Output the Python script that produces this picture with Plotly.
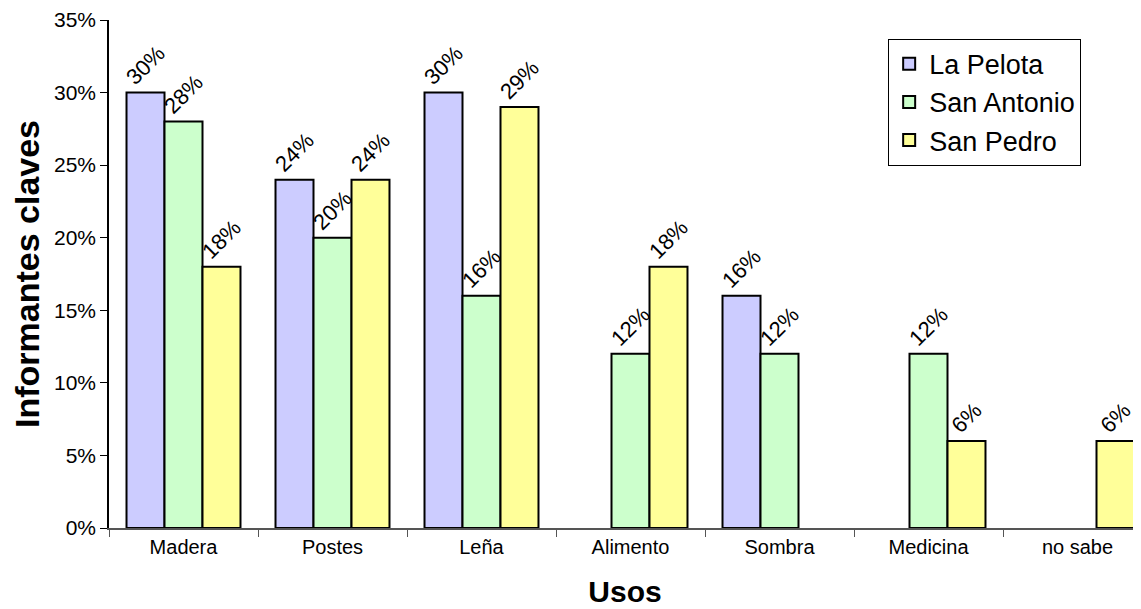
import plotly.graph_objects as go

categories = ["Madera", "Postes", "Leña", "Alimento", "Sombra", "Medicina", "no sabe"]
la_pelota = [0.30, 0.24, 0.30, None, 0.16, None, None]
san_antonio = [0.28, 0.20, 0.16, 0.12, 0.12, 0.12, None]
san_pedro = [0.18, 0.24, 0.29, 0.18, None, 0.06, 0.06]

series = [
    ("La Pelota", la_pelota, "#CCCCFF"),
    ("San Antonio", san_antonio, "#CCFFCC"),
    ("San Pedro", san_pedro, "#FFFF99"),
]

FONT = "Liberation Sans, Arial, sans-serif"

fig = go.Figure()
for name, vals, color in series:
    fig.add_trace(go.Bar(
        name=name, x=categories, y=vals,
        marker=dict(color=color, line=dict(color="black", width=2)),
        texttemplate="%{y:.0%}", textposition="outside", textangle=-45,
        textfont=dict(family=FONT, size=22, color="black"),
        cliponaxis=False, constraintext="none",
    ))

fig.update_layout(
    width=1141, height=609,
    margin=dict(l=101, r=8, t=12, b=89),
    paper_bgcolor="white", plot_bgcolor="white",
    barmode="group", bargap=0.235, bargroupgap=0,
    font=dict(family=FONT, color="black"),
    uniformtext=dict(mode=False),
    legend=dict(
        x=0.755, y=0.963, xanchor="left", yanchor="top",
        bordercolor="black", borderwidth=1, bgcolor="white",
        font=dict(family=FONT, size=27, color="black"),
        itemsizing="constant", tracegroupgap=0,
    ),
    xaxis=dict(
        range=[-0.5, 6.5 - 11 / 149], automargin=False,
        showline=True, linecolor="#555555", linewidth=1.5,
        ticks="outside", tickson="boundaries", ticklen=7, tickcolor="#555555",
        tickfont=dict(family=FONT, size=20, color="black"),
        title=dict(text="<b>Usos</b>", font=dict(family=FONT, size=30, color="black"), standoff=24),
        showgrid=False, zeroline=False,
    ),
    yaxis=dict(
        range=[0, 0.35], dtick=0.05, tickformat=".0%", automargin=False,
        showline=True, linecolor="black", linewidth=1.5,
        ticks="outside", ticklen=7, tickcolor="black",
        tickfont=dict(family=FONT, size=21, color="black"),
        title=dict(text="<b>Informantes claves</b>", font=dict(family=FONT, size=34, color="black"), standoff=10),
        showgrid=False, zeroline=False,
    ),
)

fig.write_html("out.html")
